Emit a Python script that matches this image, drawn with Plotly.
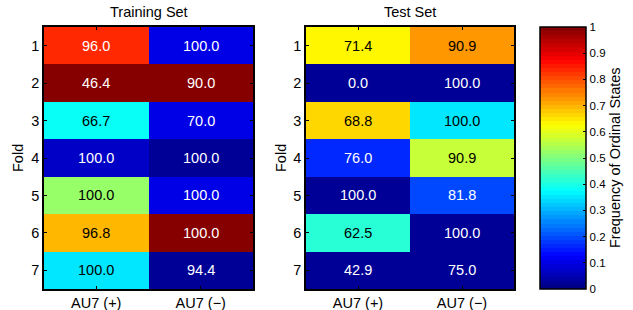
import plotly.graph_objects as go
import numpy as np

folds = [1, 2, 3, 4, 5, 6, 7]
cols = ["AU7 (+)", "AU7 (\u2212)"]

# cell text (accuracy %) per fold: [AU7(+), AU7(-)]
train_text = [[96.0, 100.0], [46.4, 90.0], [66.7, 70.0], [100.0, 100.0],
              [100.0, 100.0], [96.8, 100.0], [100.0, 94.4]]
test_text = [[71.4, 90.9], [0.0, 100.0], [68.8, 100.0], [76.0, 90.9],
             [100.0, 81.8], [62.5, 100.0], [42.9, 75.0]]

# colour values (frequency of ordinal states)
train_freq = [[0.83, 0.10], [1.0, 1.0], [0.39, 0.10], [0.07, 0.02],
              [0.52, 0.10], [0.70, 1.0], [0.345, 0.02]]
test_freq = [[0.64, 0.72], [0.02, 0.02], [0.67, 0.345], [0.17, 0.5625],
             [0.02, 0.20], [0.41, 0.02], [0.02, 0.02]]

cb_ticks = [0, 0.1, 0.2, 0.3, 0.4, 0.5, 0.6, 0.7, 0.8, 0.9, 1]


def jet(x):
    r = np.clip(1.5 - abs(4 * x - 3), 0, 1)
    g = np.clip(1.5 - abs(4 * x - 2), 0, 1)
    b = np.clip(1.5 - abs(4 * x - 1), 0, 1)
    return "rgb(%d,%d,%d)" % (round(r * 255), round(g * 255), round(b * 255))


N = 64
cscale = []
for i in range(N):
    c = jet((i + 0.5) / N)
    cscale.append([i / N, c])
    cscale.append([(i + 1) / N, c])

FONT = "Liberation Sans, Arial, sans-serif"
FS = 14.5

W, H = 633, 310


def px(x):
    return x / W


def py(y):
    return 1 - y / H


fig = go.Figure()
fig.add_trace(go.Heatmap(z=train_freq, x=cols, y=folds, coloraxis="coloraxis",
                         xaxis="x", yaxis="y", hoverinfo="skip"))
fig.add_trace(go.Heatmap(z=test_freq, x=cols, y=folds, coloraxis="coloraxis",
                         xaxis="x2", yaxis="y2", hoverinfo="skip"))

annots = []
for (txt, frq, xr, yr) in [(train_text, train_freq, "x", "y"), (test_text, test_freq, "x2", "y2")]:
    for i, f in enumerate(folds):
        for j, c in enumerate(cols):
            v = frq[i][j]
            dark = v < 0.3 or v > 0.8
            annots.append(dict(x=c, y=f, xref=xr, yref=yr, text="%.1f" % txt[i][j],
                               showarrow=False,
                               font=dict(family=FONT, size=FS, color="white" if dark else "black")))

annots += [
    dict(x=px(149), y=py(12), xref="paper", yref="paper", text="Training Set",
         xanchor="center", yanchor="middle",
         showarrow=False, font=dict(family=FONT, size=FS, color="black")),
    dict(x=px(410), y=py(12), xref="paper", yref="paper", text="Test Set",
         xanchor="center", yanchor="middle",
         showarrow=False, font=dict(family=FONT, size=FS, color="black")),
    dict(x=px(18), y=py(158), xref="paper", yref="paper", text="Fold", textangle=-90,
         xanchor="center", yanchor="middle",
         showarrow=False, font=dict(family=FONT, size=FS, color="black")),
    dict(x=px(281), y=py(158), xref="paper", yref="paper", text="Fold", textangle=-90,
         xanchor="center", yanchor="middle",
         showarrow=False, font=dict(family=FONT, size=FS, color="black")),
    dict(x=px(615), y=py(158), xref="paper", yref="paper", text="Frequency of Ordinal States",
         textangle=-90, xanchor="center", yanchor="middle",
         showarrow=False, font=dict(family=FONT, size=FS, color="black")),
]

ydom = [py(289), py(27)]
axis_common = dict(showline=True, linecolor="black", linewidth=1.5, mirror="ticks",
                   ticks="inside", ticklen=3, tickcolor="black", showgrid=False,
                   zeroline=False, automargin=False,
                   tickfont=dict(family=FONT, size=FS, color="black"))

fig.update_layout(
    width=W, height=H,
    margin=dict(l=0, r=0, t=0, b=0, autoexpand=False),
    paper_bgcolor="white", plot_bgcolor="white",
    xaxis=dict(domain=[px(44), px(253)], anchor="y", **axis_common),
    yaxis=dict(domain=ydom, anchor="x", autorange="reversed", tickvals=folds, **axis_common),
    xaxis2=dict(domain=[px(306), px(514)], anchor="y2", **axis_common),
    yaxis2=dict(domain=ydom, anchor="x2", autorange="reversed", tickvals=folds, **axis_common),
    coloraxis=dict(colorscale=cscale, cmin=0, cmax=1,
                   colorbar=dict(x=px(540), xanchor="left", xref="paper",
                                 y=0.5 * (ydom[0] + ydom[1]), yanchor="middle",
                                 len=ydom[1] - ydom[0], lenmode="fraction", thickness=46,
                                 outlinecolor="black", outlinewidth=1.5,
                                 ticks="inside", ticklen=3, tickcolor="black",
                                 tickvals=cb_ticks, ticktext=[("%g" % t) for t in cb_ticks],
                                 tickfont=dict(family=FONT, size=11.5, color="black"),
                                 xpad=0, ypad=0)),
    annotations=annots,
)

fig.write_html("out.html", config={"displayModeBar": False},
               post_script="document.body.style.margin='0px';")
